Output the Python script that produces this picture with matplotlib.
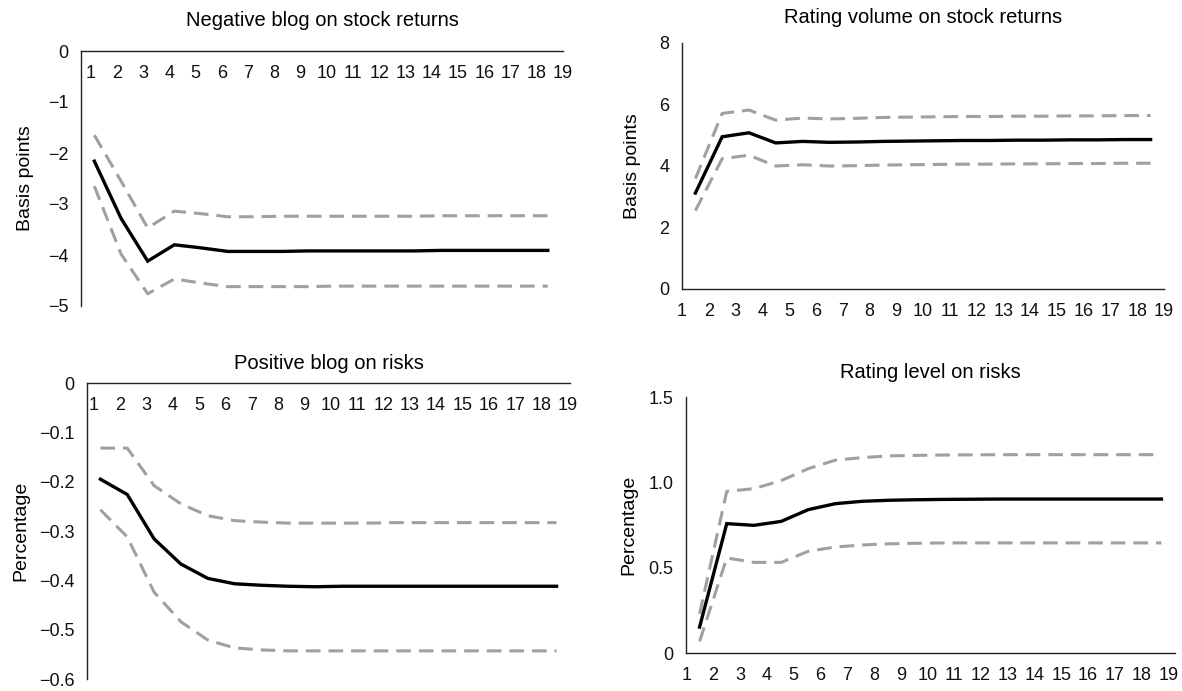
import numpy as np
import matplotlib
matplotlib.use("Agg")
import matplotlib.pyplot as plt

plt.rcParams['font.family'] = ['Liberation Sans', 'DejaVu Sans']

periods = [str(i) for i in range(1, 20)]

# Negative blog on stock returns (basis points)
neg_blog_irf = [-2.16, -3.28, -4.12, -3.80, -3.86, -3.93, -3.93, -3.93, -3.92,
                -3.92, -3.92, -3.92, -3.92, -3.91, -3.91, -3.91, -3.91, -3.91]
neg_blog_hi = [-1.65, -2.55, -3.47, -3.14, -3.19, -3.25, -3.25, -3.24, -3.24,
               -3.24, -3.24, -3.24, -3.24, -3.23, -3.23, -3.23, -3.23, -3.23]
neg_blog_lo = [-2.65, -3.98, -4.76, -4.47, -4.55, -4.62, -4.62, -4.62, -4.62,
               -4.61, -4.61, -4.61, -4.61, -4.61, -4.61, -4.61, -4.61, -4.61]

# Rating volume on stock returns (basis points)
rvol_irf = [3.12, 4.95, 5.08, 4.75, 4.80, 4.77, 4.78, 4.80, 4.81,
            4.82, 4.83, 4.83, 4.84, 4.84, 4.85, 4.85, 4.86, 4.86]
rvol_hi = [3.59, 5.71, 5.82, 5.49, 5.56, 5.53, 5.55, 5.58, 5.59,
           5.60, 5.61, 5.61, 5.62, 5.62, 5.63, 5.63, 5.64, 5.64]
rvol_lo = [2.55, 4.24, 4.35, 4.00, 4.04, 4.00, 4.01, 4.03, 4.04,
           4.05, 4.06, 4.06, 4.07, 4.07, 4.08, 4.08, 4.09, 4.09]

# Positive blog on risks (percentage)
pos_blog_irf = [-0.195, -0.226, -0.316, -0.367, -0.396, -0.407, -0.410, -0.412, -0.413,
                -0.412, -0.412, -0.412, -0.412, -0.412, -0.412, -0.412, -0.412, -0.412]
pos_blog_hi = [-0.132, -0.132, -0.208, -0.245, -0.269, -0.279, -0.282, -0.284, -0.284,
               -0.284, -0.284, -0.283, -0.283, -0.283, -0.283, -0.283, -0.283, -0.283]
pos_blog_lo = [-0.257, -0.312, -0.424, -0.484, -0.521, -0.537, -0.541, -0.543, -0.543,
               -0.543, -0.543, -0.543, -0.543, -0.543, -0.543, -0.543, -0.543, -0.543]

# Rating level on risks (percentage)
rlev_irf = [0.152, 0.758, 0.748, 0.771, 0.840, 0.875, 0.889, 0.895, 0.898,
            0.900, 0.901, 0.902, 0.902, 0.902, 0.902, 0.902, 0.902, 0.902]
rlev_hi = [0.23, 0.947, 0.963, 1.01, 1.08, 1.13, 1.145, 1.155, 1.158,
           1.160, 1.161, 1.162, 1.162, 1.162, 1.162, 1.162, 1.162, 1.162]
rlev_lo = [0.068, 0.557, 0.531, 0.531, 0.596, 0.621, 0.633, 0.640, 0.643,
           0.645, 0.645, 0.645, 0.645, 0.645, 0.645, 0.645, 0.645, 0.645]

W, H = 1182, 691


def px_axes(fig, left, right, top, bottom):
    return fig.add_axes([left / W, 1 - bottom / H, (right - left) / W, (bottom - top) / H])


def draw_panel(ax, irf, hi, lo, ylim, yticks, yticklabels, label_pos,
               title, title_y, ylabel, ylabel_x, xaxis_top=False):
    x = np.arange(len(irf)) + 0.5
    dash = dict(color='#a0a0a0', lw=2.2, dashes=(4.8, 2.6), solid_capstyle='butt')
    ax.plot(x, hi, **dash)
    ax.plot(x, lo, **dash)
    ax.plot(x, irf, color='black', lw=2.4, solid_joinstyle='miter')

    ax.set_xlim(0, 18)
    ax.set_ylim(*ylim)
    ax.set_yticks(yticks)
    ax.set_yticklabels(yticklabels)
    ax.set_xticks(label_pos)
    ax.set_xticklabels(periods)

    for s in ['top', 'right']:
        ax.spines[s].set_visible(False)
    for s in ['left', 'bottom']:
        ax.spines[s].set_color('#222222')
        ax.spines[s].set_linewidth(1.0)
    if xaxis_top:
        ax.spines['bottom'].set_position(('data', 0))
        ax.tick_params(axis='x', pad=10)
    else:
        ax.tick_params(axis='x', pad=10)
    ax.tick_params(length=0, labelsize=13, colors='#111111')
    ax.tick_params(axis='y', pad=9)

    ax.text(0.5, title_y, title, transform=ax.transAxes, ha='center', va='center',
            fontsize=14.5)
    ax.set_ylabel(ylabel, fontsize=14)
    ax.yaxis.set_label_coords(ylabel_x, 0.5)
    ax.patch.set_visible(False)


fig = plt.figure(figsize=(W / 100, H / 100), dpi=100)

ax1 = px_axes(fig, 81, 563, 51, 306)
draw_panel(ax1, neg_blog_irf, neg_blog_hi, neg_blog_lo, (-5, 0),
           [0, -1, -2, -3, -4, -5], ['0', '\u22121', '\u22122', '\u22123', '\u22124', '\u22125'],
           np.linspace(0.36, 18.07, 19), 'Negative blog on stock returns', 1.12,
           'Basis points', -0.097, xaxis_top=True)

ax2 = px_axes(fig, 682, 1164, 43, 289)
draw_panel(ax2, rvol_irf, rvol_hi, rvol_lo, (0, 8),
           [0, 2, 4, 6, 8], ['0', '2', '4', '6', '8'],
           np.arange(19), 'Rating volume on stock returns', 1.105,
           'Basis points', -0.085)

ax3 = px_axes(fig, 87, 570, 383, 679)
draw_panel(ax3, pos_blog_irf, pos_blog_hi, pos_blog_lo, (-0.6, 0),
           [0, -0.1, -0.2, -0.3, -0.4, -0.5, -0.6],
           ['0', '\u22120.1', '\u22120.2', '\u22120.3', '\u22120.4', '\u22120.5', '\u22120.6'],
           np.linspace(0.24, 17.92, 19), 'Positive blog on risks', 1.065,
           'Percentage', -0.12, xaxis_top=True)

ax4 = px_axes(fig, 686, 1175, 397, 653)
draw_panel(ax4, rlev_irf, rlev_hi, rlev_lo, (0, 1.5),
           [0, 0.5, 1.0, 1.5], ['0', '0.5', '1.0', '1.5'],
           np.linspace(0.03, 17.75, 19), 'Rating level on risks', 1.095,
           'Percentage', -0.1)

fig.savefig('out.png', dpi=100, facecolor='white')
